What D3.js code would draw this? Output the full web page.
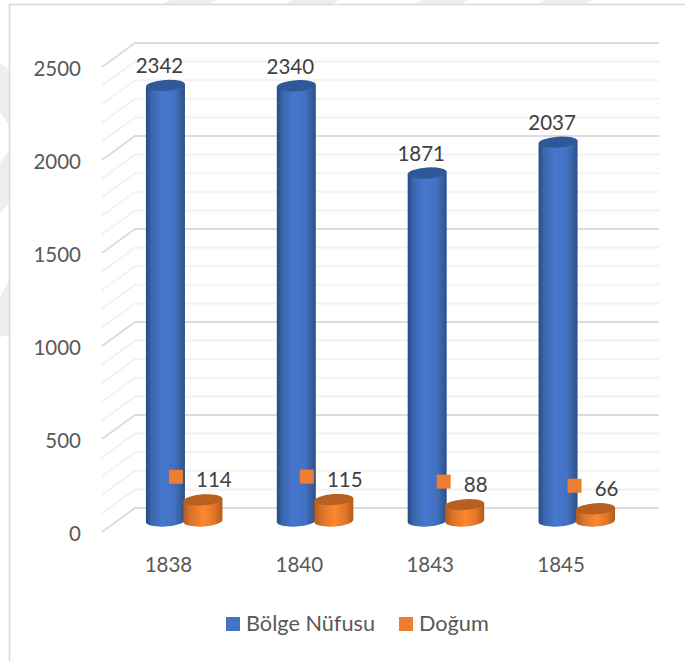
<!DOCTYPE html>
<html><head><meta charset="utf-8">
<script src="https://cdn.jsdelivr.net/npm/d3@7/dist/d3.min.js"></script>
<style>html,body{margin:0;padding:0;background:#fff}svg{display:block}text{font-family:Lato,"Open Sans",sans-serif}</style>
</head><body><div id="c"></div>
<script>
const categories = ["1838","1840","1843","1845"];
const seriesNames = ["Bölge Nüfusu","Doğum"];
const nufus = [2342,2340,1871,2037];
const dogum = [114,115,88,66];
const yTicks = [0,500,1000,1500,2000,2500];
const minorTicks = d3.range(0,2501,100).filter(v=>v%500!==0);
const seriesColors = ["#4472c4","#ed7d31"];

const W=685,H=661;
const svg=d3.select("#c").append("svg").attr("width",W).attr("height",H);
const defs=svg.append("defs");
function grad(id,stops){
  const g=defs.append("linearGradient").attr("id",id).attr("x1","0").attr("x2","1").attr("y1","0").attr("y2","0");
  stops.forEach(([o,c])=>g.append("stop").attr("offset",o).attr("stop-color",c));
}
grad("gb",[[0,"#28487f"],[.14,"#3a66ae"],[.42,"#4677cd"],[.72,"#4372c4"],[.88,"#37619f"],[1,"#2d4f8b"]]);
grad("go",[[0,"#b55a1a"],[.18,"#d8722a"],[.52,"#fd882f"],[.8,"#e07628"],[1,"#b25a1b"]]);

// faint watermark outside the chart frame
const wm=[
 [[163,4],[170,0],[217,0],[210,4]],[[285,4],[292,0],[339,0],[332,4]],
 [[415,4],[422,0],[468,0],[461,4]],[[538,4],[545,0],[592,0],[585,4]],
 [[0,63],[9,70],[9,125],[0,112]],[[0,163],[9,150],[9,203],[0,213]],[[0,297],[9,280],[9,335],[0,337]]
];
svg.selectAll(".wm").data(wm).join("polygon").attr("points",d=>d.join(" ")).attr("fill","#eeeeee");

// frame
svg.append("path").attr("d",`M9.5,${H}V4.5H${W}`).attr("fill","none").attr("stroke","#d9d9d9").attr("stroke-width",1.6);

const y=d3.scaleLinear().domain([0,2500]).range([508,43]);
const x=d3.scaleBand().domain(categories).range([103,626.5]);
const depthX=33, depthY=24, barDepthY=13, xBack=135, xEnd=659;
const cx=c=>x(c)+x.bandwidth()/2;

// gridlines + side wall
function grid(vals,color){
  svg.append("g").selectAll("path").data(vals).join("path")
    .attr("d",v=>`M${xBack-depthX},${y(v)+depthY}L${xBack},${y(v)}H${xEnd}`)
    .attr("fill","none").attr("stroke",color).attr("stroke-width",2);
}
grid(minorTicks,"#f2f2f2");
grid(yTicks,"#dcdcdc");

// axes (labels only)
const axL=svg.append("g").attr("transform",`translate(81,${depthY+2})`)
  .call(d3.axisLeft(y).tickValues(yTicks).tickFormat(d3.format("d")).tickSize(0).tickPadding(0));
axL.select(".domain").remove();
axL.selectAll("text").attr("font-size",20.5).attr("fill","#595959").style("font-family","Lato");
const axB=svg.append("g").attr("transform","translate(0,557)")
  .call(d3.axisBottom(x).tickSize(0).tickPadding(0));
axB.select(".domain").remove();
axB.selectAll("text").attr("font-size",20.5).attr("fill","#595959").style("font-family","Lato");

// cylinders
const rx=19.5, ry=5.5, tilt=-4;
const dy=rx*Math.sin(-tilt*Math.PI/180);
function cyl(vals,offset,fill,top){
  const g=svg.append("g").selectAll("g").data(vals.map((v,i)=>({v,c:categories[i]}))).join("g");
  g.append("path").attr("fill",`url(#${fill})`).attr("d",d=>{
    const c=cx(d.c)+offset, yb=y(0)+barDepthY, yt=y(d.v)+barDepthY;
    return `M${c-rx},${yt+dy}V${yb+dy}A${rx},${ry} ${tilt} 0 0 ${c+rx},${yb-dy}V${yt-dy}Z`;
  });
  g.append("ellipse").attr("rx",rx).attr("ry",ry).attr("fill",top)
    .attr("transform",d=>`translate(${cx(d.c)+offset},${y(d.v)+barDepthY}) rotate(${tilt})`);
}
cyl(nufus,-3,"gb","#2f5897");
cyl(dogum,34.5,"go","#b8601f");

// data labels
svg.append("g").selectAll("text").data(nufus).join("text")
  .attr("x",(d,i)=>cx(categories[i])-9).attr("y",d=>y(d)+barDepthY-20)
  .attr("text-anchor","middle").attr("dominant-baseline","central")
  .attr("font-size",20.5).attr("fill","#404040").text(d=>d);
const lab=svg.append("g").selectAll("g").data(dogum).join("g");
lab.append("text")
  .attr("x",(d,i)=>cx(categories[i])+45.5).attr("y",d=>y(d)+barDepthY-21)
  .attr("text-anchor","middle").attr("dominant-baseline","central")
  .attr("font-size",20.5).attr("fill","#404040").text(d=>d);
lab.append("rect").attr("width",14).attr("height",14).attr("fill",seriesColors[1])
  .attr("x",(d,i)=>cx(categories[i])+45.5-String(d).length*6-27)
  .attr("y",d=>y(d)+barDepthY-23-7);

// legend
const lx=[226,399];
const leg=svg.append("g").selectAll("g").data(seriesNames).join("g").attr("transform",(d,i)=>`translate(${lx[i]},617)`);
leg.append("rect").attr("width",14).attr("height",14).attr("fill",(d,i)=>seriesColors[i]);
leg.append("text").attr("x",20).attr("y",6).attr("dominant-baseline","central")
  .attr("font-size",21.7).attr("fill","#595959").text(d=>d);
</script></body></html>
